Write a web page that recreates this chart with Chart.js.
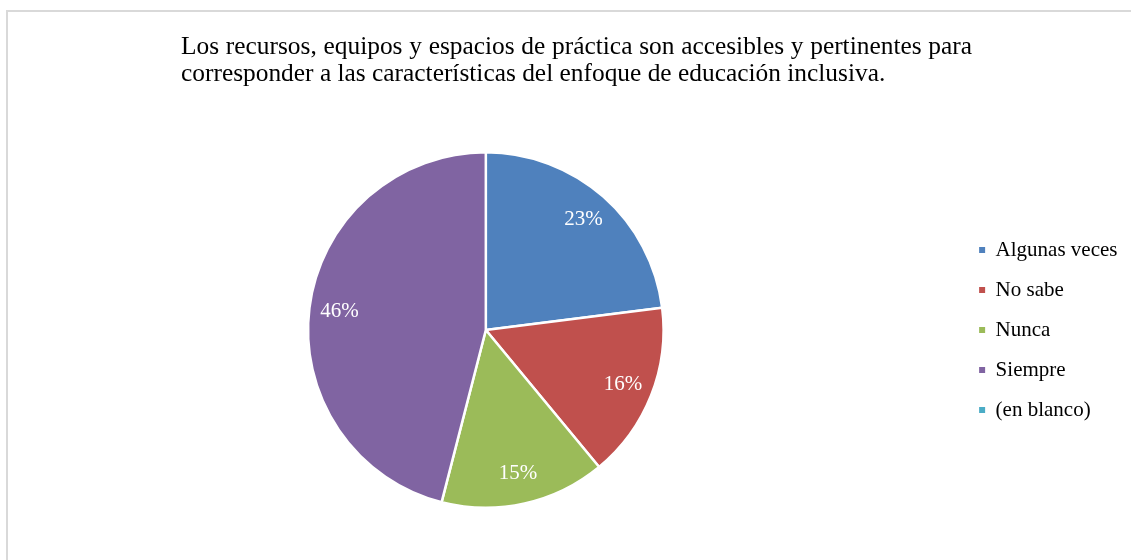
<!DOCTYPE html>
<html>
<head>
<meta charset="utf-8">
<script src="https://cdn.jsdelivr.net/npm/chart.js@4"></script>
<style>
  html, body { margin: 0; padding: 0; background: #fff; overflow: hidden; }
  #wrap { position: relative; width: 1131px; height: 560px; }
</style>
</head>
<body>
<div id="wrap"><canvas id="chart" width="1131" height="560"></canvas></div>
<script>
const titleLines = [
  "Los recursos, equipos y espacios de práctica son accesibles y pertinentes para",
  "corresponder a las características del enfoque de educación inclusiva."
];
const categories = ["Algunas veces", "No sabe", "Nunca", "Siempre", "(en blanco)"];
const percentValues = [23, 16, 15, 46, 0];
const sliceColors = ["#4F81BD", "#C0504D", "#9BBB59", "#8064A2", "#4BACC6"];

const serif = "'Liberation Serif', 'Times New Roman', serif";

// marco gris y titulo
const framePlugin = {
  id: "frame",
  beforeDraw(chart) {
    const ctx = chart.ctx;
    ctx.save();
    ctx.strokeStyle = "#d9d9d9";
    ctx.lineWidth = 2;
    ctx.strokeRect(7, 11, 2000, 2000);
    ctx.restore();
  },
  afterDraw(chart) {
    const ctx = chart.ctx;
    ctx.save();
    ctx.fillStyle = "#000";
    ctx.font = "25.4px " + serif;
    ctx.textBaseline = "alphabetic";
    ctx.textAlign = "left";
    const x0 = 181;
    const fullWidth = 972 - x0;
    // primera linea ajustada al ancho
    const words = titleLines[0].split(" ");
    const wordsWidth = words.reduce((s, w) => s + ctx.measureText(w).width, 0);
    const gap = (fullWidth - wordsWidth) / (words.length - 1);
    let x = x0;
    words.forEach((w) => {
      ctx.fillText(w, x, 54);
      x += ctx.measureText(w).width + gap;
    });
    ctx.fillText(titleLines[1], x0, 81);
    ctx.restore();
  }
};

// etiquetas de porcentaje dentro de las porciones
const pctLabels = {
  id: "pctLabels",
  afterDatasetsDraw(chart) {
    const ctx = chart.ctx;
    const meta = chart.getDatasetMeta(0);
    ctx.save();
    ctx.fillStyle = "#fff";
    ctx.font = "21px " + serif;
    ctx.textAlign = "center";
    ctx.textBaseline = "middle";
    meta.data.forEach((arc, i) => {
      const v = percentValues[i];
      if (!v) return;
      const p = arc.getProps(["x", "y", "startAngle", "endAngle", "outerRadius"], true);
      const mid = (p.startAngle + p.endAngle) / 2;
      const r = p.outerRadius * 0.83;
      ctx.fillText(v + "%", p.x + Math.cos(mid) * r, p.y + Math.sin(mid) * r);
    });
    ctx.restore();
  }
};

new Chart(document.getElementById("chart"), {
  type: "pie",
  data: {
    labels: categories,
    datasets: [{
      data: percentValues,
      backgroundColor: sliceColors,
      borderColor: "#fff",
      borderWidth: 2.5
    }]
  },
  options: {
    responsive: false,
    animation: false,
    layout: {
      padding: { left: 11.5, right: 3.5, top: 151, bottom: 51 }
    },
    plugins: {
      title: { display: false },
      tooltip: { enabled: false },
      legend: {
        display: true,
        position: "right",
        align: "center",
        labels: {
          color: "#000",
          font: { family: serif, size: 21 },
          boxWidth: 6,
          boxHeight: 6,
          padding: 19,
          generateLabels(chart) {
            const items = Chart.controllers.pie.overrides.plugins.legend.labels.generateLabels(chart);
            return items.map((it) => Object.assign(it, { lineWidth: 0, strokeStyle: it.fillStyle }));
          }
        }
      }
    }
  },
  plugins: [framePlugin, pctLabels]
});
</script>
</body>
</html>
